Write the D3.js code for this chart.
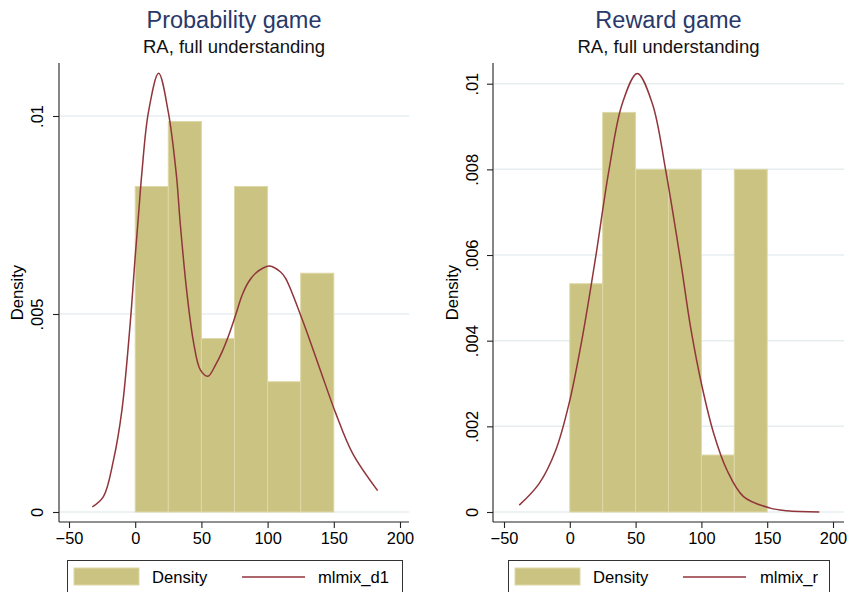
<!DOCTYPE html>
<html>
<head>
<meta charset="utf-8">
<script src="https://cdn.jsdelivr.net/npm/d3@7"></script>
<style>
  body { margin: 0; background: #fff; }
  svg { display: block; font-family: "Liberation Sans", Arial, sans-serif; }
</style>
</head>
<body>
<svg id="chart" width="850" height="592"></svg>
<script>
// histogram bins (width 25)
const binEdges = [0, 25, 50, 75, 100, 125, 150];
const probDensity = [0.00822, 0.00986, 0.00438, 0.00822, 0.00329, 0.00603];
const rewardDensity = [0.00533, 0.00933, 0.008, 0.008, 0.00133, 0.008];

// mixture density curves
const probCurveX = [-32.4, -24, -16.4, -10, -3.8, 0, 2.5, 5.1, 10, 17.7, 25, 31.1, 34.1, 39.1, 44.2, 49.2, 55, 60.6, 65.7, 70.7, 75.8, 80.8, 85.8, 90.9, 96, 101.5, 109.8, 113.6, 126.3, 138.9, 151.5, 164.2, 183.1];
const probCurveY = [0.00013, 0.00039, 0.00131, 0.00258, 0.00475, 0.00645, 0.0075, 0.00859, 0.0101, 0.01108, 0.0101, 0.00851, 0.00725, 0.00552, 0.00426, 0.00359, 0.00343, 0.00371, 0.00405, 0.00447, 0.00497, 0.00548, 0.00582, 0.00603, 0.00615, 0.00621, 0.00606, 0.0059, 0.00485, 0.00367, 0.00249, 0.00148, 0.00054];

const rewardCurveX = [-38.4, -23.2, -10.6, -0.5, 9.6, 19.7, 29.8, 39.9, 51.3, 62.7, 72.8, 84.1, 91.7, 100.5, 109.3, 119.4, 132, 152.3, 164.9, 189.6];
const rewardCurveY = [0.00016, 0.00067, 0.00145, 0.00254, 0.00409, 0.00596, 0.00799, 0.00954, 0.01024, 0.00954, 0.00799, 0.00588, 0.00433, 0.00293, 0.00184, 0.00098, 0.00036, 0.00009, 0.00003, 0];

const xTicks = [-50, 0, 50, 100, 150, 200];
const probYTicks = [0, 0.005, 0.01];
const rewardYTicks = [0, 0.002, 0.004, 0.006, 0.008, 0.01];

const titles = ['Probability game', 'Reward game'];
const subtitle = 'RA, full understanding';
const curveNames = ['mlmix_d1', 'mlmix_r'];

const barColor = '#cbc382';
const barEdge = '#ddd8a6';
const lineColor = '#90353b';
const gridColor = '#e7eef0';

const panels = [
  {
    title: titles[0], name: curveNames[0], bars: probDensity,
    cx: probCurveX, cy: probCurveY, yTicks: probYTicks,
    x0: 59, x1: 409, xr: [69, 400], yr: [512, 116],
    tickGap: 16, titleX: 23, legend: { x: 67, w: 335, sw: 74, tx: 152, lx: 242, nx: 318 }
  },
  {
    title: titles[1], name: curveNames[1], bars: rewardDensity,
    cx: rewardCurveX, cy: rewardCurveY, yTicks: rewardYTicks,
    x0: 493, x1: 844, xr: [504, 833], yr: [512, 83.7],
    tickGap: 15, titleX: 457.5, legend: { x: 508, w: 321, sw: 515, tx: 593, lx: 683, nx: 760 }
  }
];

const svg = d3.select('#chart');
const yTop = 63, yBot = 522;

function tickLabel(v) {
  if (v === 0) return '0';
  return d3.format('.3~f')(v).replace(/^0/, '');
}

panels.forEach(p => {
  const g = svg.append('g');
  const x = d3.scaleLinear().domain([-50, 200]).range(p.xr);
  const y = d3.scaleLinear().domain([0, 0.01]).range(p.yr);
  const cxm = (p.x0 + p.x1) / 2;

  // titles
  g.append('text').attr('x', cxm).attr('y', 28).attr('text-anchor', 'middle')
    .attr('font-size', 23.5).attr('fill', '#28396a').text(p.title);
  g.append('text').attr('x', cxm).attr('y', 53).attr('text-anchor', 'middle')
    .attr('font-size', 18.5).attr('fill', '#111').text(subtitle);

  // gridlines
  g.selectAll('.grid').data(p.yTicks).join('line')
    .attr('x1', p.x0 + 1).attr('x2', p.x1)
    .attr('y1', d => y(d)).attr('y2', d => y(d))
    .attr('stroke', gridColor).attr('stroke-width', 1.5);

  // bars
  g.selectAll('.bar').data(p.bars).join('rect')
    .attr('x', (d, i) => x(binEdges[i]))
    .attr('width', (d, i) => x(binEdges[i + 1]) - x(binEdges[i]))
    .attr('y', d => y(d))
    .attr('height', d => y(0) - y(d))
    .attr('fill', barColor).attr('stroke', barEdge).attr('stroke-width', 1);

  // curve
  const pts = p.cx.map((v, i) => [v, p.cy[i]]);
  g.append('path').datum(pts)
    .attr('d', d3.line().x(d => x(d[0])).y(d => y(d[1])).curve(d3.curveCatmullRom.alpha(0.5)))
    .attr('fill', 'none').attr('stroke', lineColor).attr('stroke-width', 1.5);

  // axes
  const xAxis = d3.axisBottom(x).tickValues(xTicks).tickSize(6).tickPadding(4)
    .tickFormat(d => d < 0 ? '\u2212' + Math.abs(d) : d);
  const xa = g.append('g').attr('transform', `translate(0,${yBot})`).call(xAxis);
  xa.select('.domain').attr('d', `M${p.x0},0H${p.x1}`);
  xa.selectAll('text').attr('font-size', 16.4).attr('fill', '#000')
    .attr('font-family', '"Liberation Sans", Arial, sans-serif');

  const yAxis = d3.axisLeft(y).tickValues(p.yTicks).tickSize(6).tickFormat(tickLabel);
  const ya = g.append('g').attr('transform', `translate(${p.x0},0)`).call(yAxis);
  ya.select('.domain').attr('d', `M0,${yTop}V${yBot}`);
  ya.selectAll('.tick text')
    .attr('x', null).attr('dy', null)
    .attr('text-anchor', 'middle')
    .attr('transform', `translate(${-p.tickGap},0) rotate(-90)`)
    .attr('font-size', 16.4).attr('fill', '#000')
    .attr('font-family', '"Liberation Sans", Arial, sans-serif');
  [xa, ya].forEach(a => {
    a.selectAll('path, line').attr('stroke', '#222').attr('stroke-width', 1.1);
  });

  g.append('text')
    .attr('transform', `translate(${p.titleX},${(yTop + yBot) / 2}) rotate(-90)`)
    .attr('text-anchor', 'middle').attr('font-size', 16.6).text('Density');

  // legend
  const L = p.legend;
  const lg = g.append('g');
  lg.append('rect').attr('x', L.x + 0.5).attr('y', 560.5).attr('width', L.w).attr('height', 34)
    .attr('fill', '#fff').attr('stroke', '#333').attr('stroke-width', 1);
  lg.append('rect').attr('x', L.sw).attr('y', 568).attr('width', 65).attr('height', 17)
    .attr('fill', barColor).attr('stroke', barEdge);
  lg.append('text').attr('x', L.tx).attr('y', 583).attr('font-size', 16.6).text('Density');
  lg.append('line').attr('x1', L.lx).attr('x2', L.lx + 63).attr('y1', 577).attr('y2', 577)
    .attr('stroke', lineColor).attr('stroke-width', 1.5);
  lg.append('text').attr('x', L.nx).attr('y', 583).attr('font-size', 16.6).text(p.name);
});
</script>
</body>
</html>
